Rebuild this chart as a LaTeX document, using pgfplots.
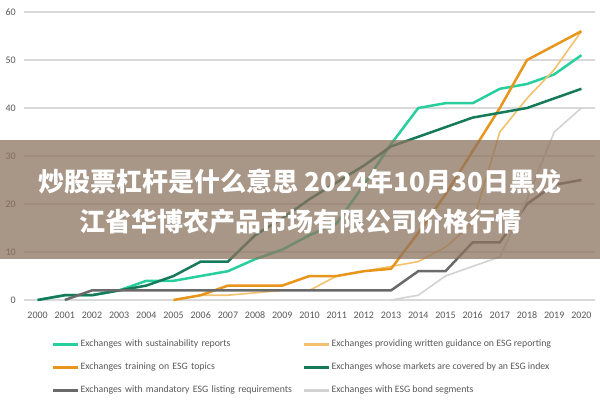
\documentclass[border=0pt]{standalone}
\usepackage{fontspec}
\setmainfont{Carlito}
\newfontfamily\cjk{Noto Sans CJK SC}
\usepackage{pgfplots}
\pgfplotsset{compat=1.18}
\definecolor{cTeal}{HTML}{28CF9E}
\definecolor{cOrange}{HTML}{E8951C}
\definecolor{cLOrange}{HTML}{F4C26F}
\definecolor{cDGreen}{HTML}{15795A}
\definecolor{cDGrey}{HTML}{6A6A6A}
\definecolor{cLGrey}{HTML}{D3D3D3}
\definecolor{cGrid}{HTML}{D9D9D9}
\definecolor{cTick}{HTML}{595959}
\definecolor{cBanner}{HTML}{8C735F}
\begin{document}
\begin{tikzpicture}
\path[use as bounding box, fill=white] (0pt,0pt) rectangle (600pt,400pt);
\begin{axis}[
  at={(24pt,100pt)}, anchor=south west, scale only axis,
  width=571pt, height=288pt,
  xmin=1999.5, xmax=2020.5, ymin=0, ymax=60,
  axis line style={draw=none}, major tick length=0pt,
  xtick={2000,2001,...,2020}, ytick={0,10,...,60},
  ymajorgrids, grid style={draw=cGrid, line width=1.2pt},
  tick label style={font=\fontsize{10}{12}\selectfont, text=cTick},
  /pgf/number format/assume math mode=true,
  /pgf/number format/1000 sep={},
  yticklabel style={inner sep=0pt, xshift=-8pt},
  xticklabel style={inner sep=0pt, anchor=north, text height=7pt, text depth=0pt, yshift=-11pt},
  clip=false, no markers,
  legend columns=2, legend cell align=left,
  legend image code/.code={\draw[#1, line width=3pt] (0pt,0pt) -- (25pt,0pt);},
  legend style={at={(0.048,-0.133)}, anchor=north west, draw=none, fill=none,
    inner sep=0pt, row sep=12pt, column sep=0pt,
    font=\fontsize{9.8}{11}\selectfont, text=cTick,
    nodes={inner sep=1pt, text height=7pt, text depth=2pt}},
]
\addplot[cTeal, line width=2.5pt] coordinates {(2000,0)(2001,1)(2002,1)(2003,2)(2004,4)(2005,4)(2006,5)(2007,6)(2008,8.5)(2009,10.5)(2010,13.5)(2011,16)(2012,24)(2013,32.5)(2014,40)(2015,41)(2016,41)(2017,44)(2018,45)(2019,47)(2020,51)};
\addlegendentry[text width=221pt]{Exchanges with sustainability reports}
\addplot[cLOrange, line width=1.6pt] coordinates {(2005,0)(2006,1)(2007,1)(2008,1.5)(2009,2)(2010,2)(2011,5)(2012,6)(2013,7)(2014,8)(2015,11)(2016,16)(2017,35)(2018,42)(2019,48)(2020,56)};
\addlegendentry{Exchanges providing written guidance on ESG reporting}
\addplot[cOrange, line width=2.5pt] coordinates {(2005,0)(2006,1)(2007,3)(2008,3)(2009,3)(2010,5)(2011,5)(2012,6)(2013,6.5)(2014,14)(2015,22)(2016,31)(2017,40)(2018,50)(2019,53)(2020,56)};
\addlegendentry[text width=221pt]{Exchanges training on ESG topics}
\addplot[cDGreen, line width=2.5pt] coordinates {(2000,0)(2001,1)(2002,1)(2003,2)(2004,3)(2005,5)(2006,8)(2007,8)(2008,13.5)(2009,17)(2010,21)(2011,24.5)(2012,28)(2013,32)(2014,34)(2015,36)(2016,38)(2017,39)(2018,40)(2019,42)(2020,44)};
\addlegendentry{Exchanges whose markets are covered by an ESG index}
\addplot[cDGrey, line width=2.5pt] coordinates {(2001,0)(2002,2)(2003,2)(2004,2)(2005,2)(2006,2)(2007,2)(2008,2)(2009,2)(2010,2)(2011,2)(2012,2)(2013,2)(2014,6)(2015,6)(2016,12)(2017,12)(2018,20)(2019,24)(2020,25)};
\addlegendentry[text width=221pt]{Exchanges with mandatory ESG listing requirements}
\addplot[cLGrey, line width=1.6pt] coordinates {(2013,0)(2014,1)(2015,5)(2016,7)(2017,9)(2018,21)(2019,35)(2020,40)};
\addlegendentry{Exchanges with ESG bond segments}
\end{axis}
\fill[cBanner, opacity=0.75] (0pt,141pt) rectangle (600pt,260pt);
\node[text=white, font=\cjk\bfseries\fontsize{26}{30}\selectfont, inner sep=0pt] at (300pt,218pt) {炒股票杠杆是什么意思 2024年10月30日黑龙};
\node[text=white, font=\cjk\bfseries\fontsize{26}{30}\selectfont, inner sep=0pt] at (300pt,178pt) {江省华博农产品市场有限公司价格行情};
\end{tikzpicture}
\end{document}
